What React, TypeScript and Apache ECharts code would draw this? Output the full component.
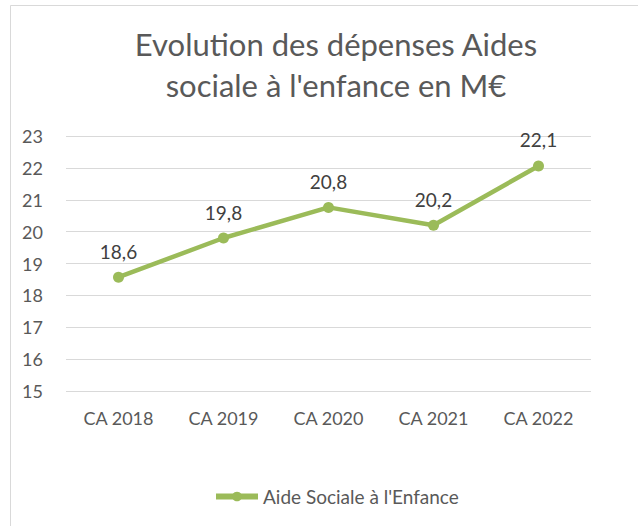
import React, { useEffect, useRef } from "react";
import * as echarts from "echarts";

const titleLines = ["Evolution des dépenses Aides", "sociale à l'enfance en M€"];
const categories = ["CA 2018", "CA 2019", "CA 2020", "CA 2021", "CA 2022"];
const seriesName = "Aide Sociale à l'Enfance";
const values = [18.57, 19.8, 20.76, 20.2, 22.06];
const yMin = 15;
const yMax = 23;
const yStep = 1;

const FONT = "Lato, 'Open Sans', sans-serif";
const GREEN = "#9BBB59";

export default function App() {
  const ref = useRef<HTMLDivElement>(null);
  useEffect(() => {
    if (!ref.current) return;
    const chart = echarts.init(ref.current, null, { renderer: "svg" });
    chart.setOption({
      animation: false,
      backgroundColor: "#ffffff",
      textStyle: { fontFamily: FONT },
      title: {
        text: titleLines.join("\n"),
        left: 331,
        textAlign: "center",
        top: 18,
        textStyle: {
          fontFamily: FONT,
          fontSize: 31,
          fontWeight: "normal",
          color: "#595959",
          lineHeight: 41,
        },
      },
      graphic: [
        {
          type: "rect",
          shape: { x: 10.5, y: 5.5, width: 700, height: 600 },
          style: { fill: "none", stroke: "#d9d9d9", lineWidth: 1 },
          silent: true,
          z: -1,
        },
      ],
      legend: {
        bottom: 15,
        left: 208,
        orient: "horizontal",
        data: [seriesName],
        itemWidth: 42,
        itemHeight: 12,
        itemGap: 10,
        lineStyle: { width: 6 },
        textStyle: { fontFamily: FONT, fontSize: 19, color: "#595959" },
      },
      grid: { left: 66, right: 47, top: 136, bottom: 135 },
      xAxis: {
        type: "category",
        data: categories,
        boundaryGap: true,
        axisLine: { show: false },
        axisTick: { show: false },
        axisLabel: { fontFamily: FONT, fontSize: 18, color: "#595959", margin: 18 },
      },
      yAxis: {
        type: "value",
        min: yMin,
        max: yMax,
        interval: yStep,
        axisLine: { show: false },
        axisTick: { show: false },
        axisLabel: { fontFamily: FONT, fontSize: 18, color: "#595959", margin: 23 },
        splitLine: { lineStyle: { color: "#d9d9d9", width: 1 } },
      },
      series: [
        {
          name: seriesName,
          type: "line",
          data: values,
          symbol: "circle",
          symbolSize: 11,
          lineStyle: { color: GREEN, width: 4.5 },
          itemStyle: { color: GREEN },
          label: {
            show: true,
            position: "top",
            distance: 11,
            fontFamily: FONT,
            fontSize: 19,
            color: "#404040",
            formatter: (p: any) => Number(p.value).toFixed(1).replace(".", ","),
          },
        },
      ],
    });
    return () => chart.dispose();
  }, []);
  return (
    <div
      ref={ref}
      style={{ position: "absolute", left: 0, top: 0, width: 638, height: 526 }}
    />
  );
}
